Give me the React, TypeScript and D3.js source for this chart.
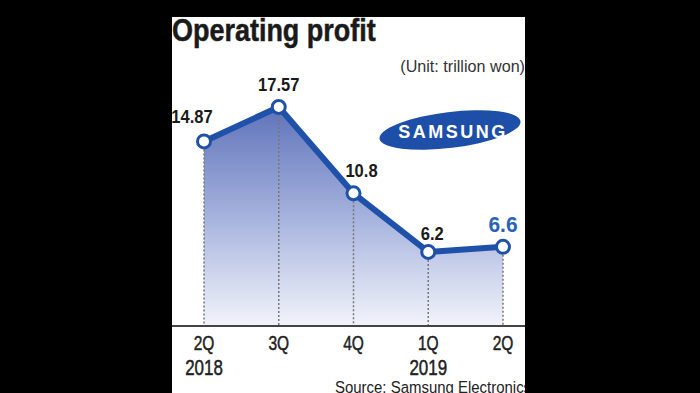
import React from 'react';
import * as d3 from 'd3';

const quarters = ['2Q18', '3Q18', '4Q18', '1Q19', '2Q19'];
const quarterLabels = ['2Q', '3Q', '4Q', '1Q', '2Q'];
const yearLabels = ['2018', '', '', '2019', ''];
const profit = [14.87, 17.57, 10.8, 6.2, 6.6];
const valueLabels = ['14.87', '17.57', '10.8', '6.2', '6.6'];

const W = 700;
const H = 393;
const panel = { left: 172, right: 525, top: 17, bottom: 393 };
const axisY = 326;
const sans = "'Liberation Sans', Arial, sans-serif";
const blue = '#1f51a9';

// label nudges per point (left / above / right of the marker)
const nudge = [
  { dx: -12, dy: -18 },
  { dx: 0, dy: -16 },
  { dx: 8, dy: -16 },
  { dx: 4, dy: -12 },
  { dx: 0, dy: -15 },
];

// the original uses a condensed face, so squeeze Liberation Sans horizontally
type CProps = {
  x: number;
  y: number;
  sx: number;
  size: number;
  bold?: boolean;
  heavy?: boolean;
  anchor?: string;
  fill?: string;
  children: React.ReactNode;
};
function CText({ x, y, sx, size, bold, heavy, anchor = 'start', fill = '#222', children }: CProps) {
  return (
    <g transform={`translate(${x},${y}) scale(${sx},1)`}>
      <text
        textAnchor={anchor}
        fontFamily={sans}
        fontWeight={bold ? 'bold' : 'normal'}
        fontSize={size}
        fill={fill}
        stroke={heavy ? fill : 'none'}
        strokeWidth={heavy ? 0.5 : 0}
      >
        {children}
      </text>
    </g>
  );
}

export default function App() {
  const x = d3.scalePoint<string>().domain(quarters).range([204, 503]);
  const y = d3.scaleLinear().domain([0, 20]).range([331, 76]);

  const pts = profit.map((v, i) => ({ v, q: quarters[i], i }));

  const area = d3
    .area<typeof pts[0]>()
    .x((d) => x(d.q)!)
    .y0(axisY)
    .y1((d) => y(d.v));
  const line = d3
    .line<typeof pts[0]>()
    .x((d) => x(d.q)!)
    .y((d) => y(d.v));

  return (
    <svg
      width={W}
      height={H}
      style={{ position: 'fixed', left: 0, top: 0, display: 'block' }}
    >
      <defs>
        <linearGradient id="fillGrad" gradientUnits="userSpaceOnUse" x1="0" y1="100" x2="0" y2={axisY}>
          <stop offset="0" stopColor="#5a6fb8" />
          <stop offset="0.5" stopColor="#a3b0dc" />
          <stop offset="1" stopColor="#f2f4fb" />
        </linearGradient>
        <clipPath id="panelClip">
          <rect x={panel.left} y={panel.top} width={panel.right - panel.left} height={panel.bottom - panel.top} />
        </clipPath>
      </defs>
      <rect width={W} height={H} fill="#000" />
      <rect
        x={panel.left}
        y={panel.top}
        width={panel.right - panel.left}
        height={panel.bottom - panel.top}
        fill="#fff"
      />
      <g clipPath="url(#panelClip)">
        <CText x={panel.left} y={41} sx={0.87} size={31} bold heavy fill="#1a1a1a">
          Operating profit
        </CText>
        <CText x={525} y={72} sx={0.95} size={17} anchor="end" fill="#333">
          (Unit: trillion won)
        </CText>

        {/* Samsung logo */}
        <ellipse cx={450} cy={130} rx={71} ry={18} fill="#1d4fa8" transform="rotate(-7 450 130)" />
        <text
          x={453}
          y={138}
          textAnchor="middle"
          fontFamily={sans}
          fontWeight="bold"
          fontSize={18}
          letterSpacing={2.5}
          fill="#fff"
        >
          SAMSUNG
        </text>

        <path d={area(pts)!} fill="url(#fillGrad)" />

        {pts.map((d) => (
          <line
            key={'g' + d.i}
            x1={x(d.q)}
            x2={x(d.q)}
            y1={y(d.v)}
            y2={axisY}
            stroke="#777"
            strokeWidth={1.5}
            strokeDasharray="2,2"
          />
        ))}

        <line x1={panel.left} x2={panel.right} y1={axisY} y2={axisY} stroke="#444" strokeWidth={2} />

        <path d={line(pts)!} fill="none" stroke={blue} strokeWidth={6} strokeLinejoin="round" />
        {pts.map((d) => (
          <circle key={'c' + d.i} cx={x(d.q)} cy={y(d.v)} r={6.5} fill="#fff" stroke={blue} strokeWidth={3} />
        ))}

        {pts.map((d) => {
          const last = d.i === pts.length - 1;
          return (
            <CText
              key={'v' + d.i}
              x={x(d.q)! + nudge[d.i].dx}
              y={y(d.v) + nudge[d.i].dy}
              sx={last ? 0.95 : 0.87}
              size={last ? 22 : 19}
              bold
              anchor="middle"
              fill={last ? '#2a62b8' : '#1a1a1a'}
            >
              {valueLabels[d.i]}
            </CText>
          );
        })}

        {quarters.map((q, i) => (
          <g key={'x' + i}>
            <CText x={x(q)!} y={350} sx={0.74} size={21} heavy anchor="middle">
              {quarterLabels[i]}
            </CText>
            {yearLabels[i] && (
              <CText x={x(q)!} y={375} sx={0.77} size={22} heavy anchor="middle">
                {yearLabels[i]}
              </CText>
            )}
          </g>
        ))}

        <CText x={335} y={393} sx={0.88} size={17}>
          Source: Samsung Electronics
        </CText>
      </g>
    </svg>
  );
}
